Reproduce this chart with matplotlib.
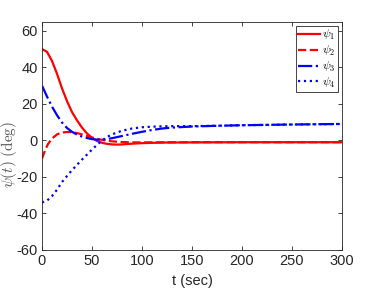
import matplotlib
matplotlib.use("Agg")
import matplotlib.pyplot as plt

plt.rcParams['font.family'] = ['Liberation Sans', 'DejaVu Sans']
plt.rcParams['mathtext.fontset'] = 'cm'

t1 = [0, 5, 10, 15, 20, 25, 30, 35, 40, 45, 50, 55, 60, 65, 70, 75, 80, 90, 100, 120, 150, 200, 300]
psi1 = [50, 48.5, 43.5, 36.5, 28.5, 21.5, 15.5, 11, 7, 3.8, 1.4, -0.3, -1.3, -1.9, -2.2, -2.3, -2.2, -1.8, -1.5, -1.2, -1.1, -1.0, -1.0]

t2 = [0, 3, 6, 10, 15, 20, 25, 30, 35, 40, 45, 50, 55, 60, 65, 70, 80, 90, 100, 150, 200, 300]
psi2 = [-10, -5.5, -2, 1, 3.3, 4.3, 4.6, 4.5, 4, 3.3, 2.5, 1.6, 0.9, 0.3, -0.2, -0.5, -0.9, -1.1, -1.1, -1.0, -1.0, -1.0]

t3 = [0, 5, 10, 15, 20, 25, 30, 35, 40, 45, 50, 55, 60, 65, 70, 80, 90, 100, 110, 120, 130, 150, 175, 200, 250, 300]
psi3 = [30, 24, 18.5, 13.8, 9.8, 6.8, 4.7, 3.2, 2.1, 1.3, 0.7, 0.4, 0.4, 0.7, 1.2, 2.4, 3.6, 4.7, 5.7, 6.5, 7.0, 7.6, 8.0, 8.3, 8.7, 9.0]

t4 = [0, 5, 10, 15, 20, 25, 30, 35, 40, 45, 50, 55, 60, 65, 70, 80, 90, 100, 110, 120, 130, 150, 175, 200, 250, 300]
psi4 = [-34, -33, -30.5, -27, -22.8, -19.5, -16.3, -13.4, -10.5, -7.8, -5.0, -2.5, 0, 1.8, 3.3, 5.3, 6.5, 7.2, 7.5, 7.7, 7.8, 7.8, 8.0, 8.3, 8.7, 9.0]

xticks = [0, 50, 100, 150, 200, 250, 300]
yticks = [-60, -40, -20, 0, 20, 40, 60]

fig = plt.figure(figsize=(3.71, 2.89), dpi=100)
ax = fig.add_axes([0.1132, 0.135, 0.8086, 0.79])

ax.plot(t1, psi1, color='#ff0000', ls='-', lw=1.6, label=r'$\psi_1$')
ax.plot(t2, psi2, color='#ff0000', ls='--', lw=1.6, label=r'$\psi_2$')
ax.plot(t3, psi3, color='#0000ff', ls='-.', lw=1.6, label=r'$\psi_3$')
ax.plot(t4, psi4, color='#0000ff', ls=':', lw=1.6, label=r'$\psi_4$')

ax.set_xlim(0, 300)
ax.set_ylim(-60, 65)
ax.set_xticks(xticks)
ax.set_yticks(yticks)
ax.set_xticklabels([str(v) for v in xticks])
ax.set_yticklabels([str(v) for v in yticks])
ax.tick_params(direction='in', top=True, right=True, length=3, width=0.6,
               labelsize=10.5, colors='#262626', pad=3)
for s in ax.spines.values():
    s.set_color('#262626')
    s.set_linewidth(0.6)

ax.set_xlabel('t (sec)', fontsize=10.5, color='#262626', labelpad=4)
ax.set_ylabel(r'$\psi(t)\ \mathrm{(deg)}$', fontsize=11, color='#555555')
ax.yaxis.set_label_coords(-0.078, 0.42)

leg = ax.legend(loc='upper right', fontsize=8.5, frameon=True, fancybox=False,
                edgecolor='#262626', framealpha=1, handlelength=1.8,
                borderpad=0.2, labelspacing=0.15, handletextpad=0.2,
                borderaxespad=0.35)
leg.get_frame().set_linewidth(0.6)

fig.savefig('out.png', dpi=100)
